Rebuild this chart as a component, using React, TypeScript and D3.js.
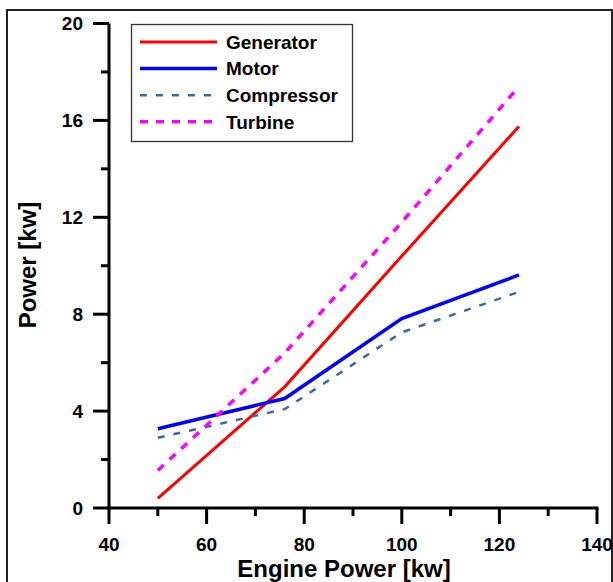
import React from "react";
import * as d3 from "d3";

const engineX = [50, 76, 100, 124];
const generator = [0.4, 5.0, 10.4, 15.75];
const motor = [3.27, 4.52, 7.82, 9.62];
const compressor = [2.9, 4.08, 7.25, 8.92];
const turbine = [1.55, 6.4, 11.8, 17.4];

const xTicks = [40, 60, 80, 100, 120, 140];
const xMinor = [50, 70, 90, 110, 130];
const yTicks = [0, 4, 8, 12, 16, 20];
const yMinor = [2, 6, 10, 14, 18];

const seriesNames = ["Generator", "Motor", "Compressor", "Turbine"];
const seriesData = [generator, motor, compressor, turbine];
const seriesColor = ["#ff0000", "#0000ff", "#3a6b9e", "#ff00ff"];
const seriesWidth = [3, 3.5, 2.5, 3.5];
const seriesDash = [null, null, "7,9", "8,8"];

export default function App() {
  const x = d3.scaleLinear().domain([40, 140]).range([109, 597]);
  const y = d3.scaleLinear().domain([0, 20]).range([508, 23.5]);
  const line = d3
    .line<number>()
    .x((_, i) => x(engineX[i]))
    .y((d) => y(d));
  const font = "'Liberation Sans', Arial, sans-serif";
  const legendRowY = (i: number) => 42 + i * 26.6;

  return (
    <svg
      width={613}
      height={582}
      style={{ position: "absolute", left: 0, top: 0, background: "#fff" }}
      fontFamily={font}
    >
      <rect x={0} y={0} width={613} height={582} fill="#fff" />
      <rect x={7} y={10} width={605} height={600} fill="none" stroke="#222" strokeWidth={2} />

      {seriesData.map((s, i) => (
        <path
          key={seriesNames[i]}
          d={line(s) || ""}
          fill="none"
          stroke={seriesColor[i]}
          strokeWidth={seriesWidth[i]}
          strokeDasharray={seriesDash[i] || undefined}
        />
      ))}

      <line x1={x(40)} x2={x(40)} y1={y(20)} y2={y(0) + 1.5} stroke="#000" strokeWidth={3} />
      <line x1={x(40) - 1.5} x2={x(140) + 1.5} y1={y(0)} y2={y(0)} stroke="#000" strokeWidth={3} />
      {yTicks.map((t) => (
        <g key={"y" + t}>
          <line x1={x(40) - 16} x2={x(40)} y1={y(t)} y2={y(t)} stroke="#000" strokeWidth={3} />
          <text x={83} y={y(t)} dy="0.36em" textAnchor="end" fontSize={19} fontWeight="bold">
            {t}
          </text>
        </g>
      ))}
      {yMinor.map((t) => (
        <line key={"ym" + t} x1={x(40) - 8} x2={x(40)} y1={y(t)} y2={y(t)} stroke="#000" strokeWidth={3} />
      ))}
      {xTicks.map((t) => (
        <g key={"x" + t}>
          <line x1={x(t)} x2={x(t)} y1={y(0)} y2={y(0) + 16} stroke="#000" strokeWidth={3} />
          <text x={x(t)} y={551} textAnchor="middle" fontSize={19} fontWeight="bold">
            {t}
          </text>
        </g>
      ))}
      {xMinor.map((t) => (
        <line key={"xm" + t} x1={x(t)} x2={x(t)} y1={y(0)} y2={y(0) + 8} stroke="#000" strokeWidth={3} />
      ))}

      <text x={344} y={577} textAnchor="middle" fontSize={24} fontWeight="bold">
        Engine Power [kw]
      </text>
      <text
        transform="translate(36,265) rotate(-90)"
        textAnchor="middle"
        fontSize={24}
        fontWeight="bold"
      >
        Power [kw]
      </text>

      <rect x={131.5} y={24.5} width={221} height={117} fill="#fff" stroke="#333" strokeWidth={1.3} />
      {seriesNames.map((n, i) => (
        <g key={"lg" + n}>
          <line
            x1={140}
            x2={217}
            y1={legendRowY(i)}
            y2={legendRowY(i)}
            stroke={seriesColor[i]}
            strokeWidth={seriesWidth[i]}
            strokeDasharray={seriesDash[i] || undefined}
          />
          <text x={226} y={legendRowY(i)} dy="0.36em" fontSize={19} fontWeight="bold">
            {n}
          </text>
        </g>
      ))}
    </svg>
  );
}
